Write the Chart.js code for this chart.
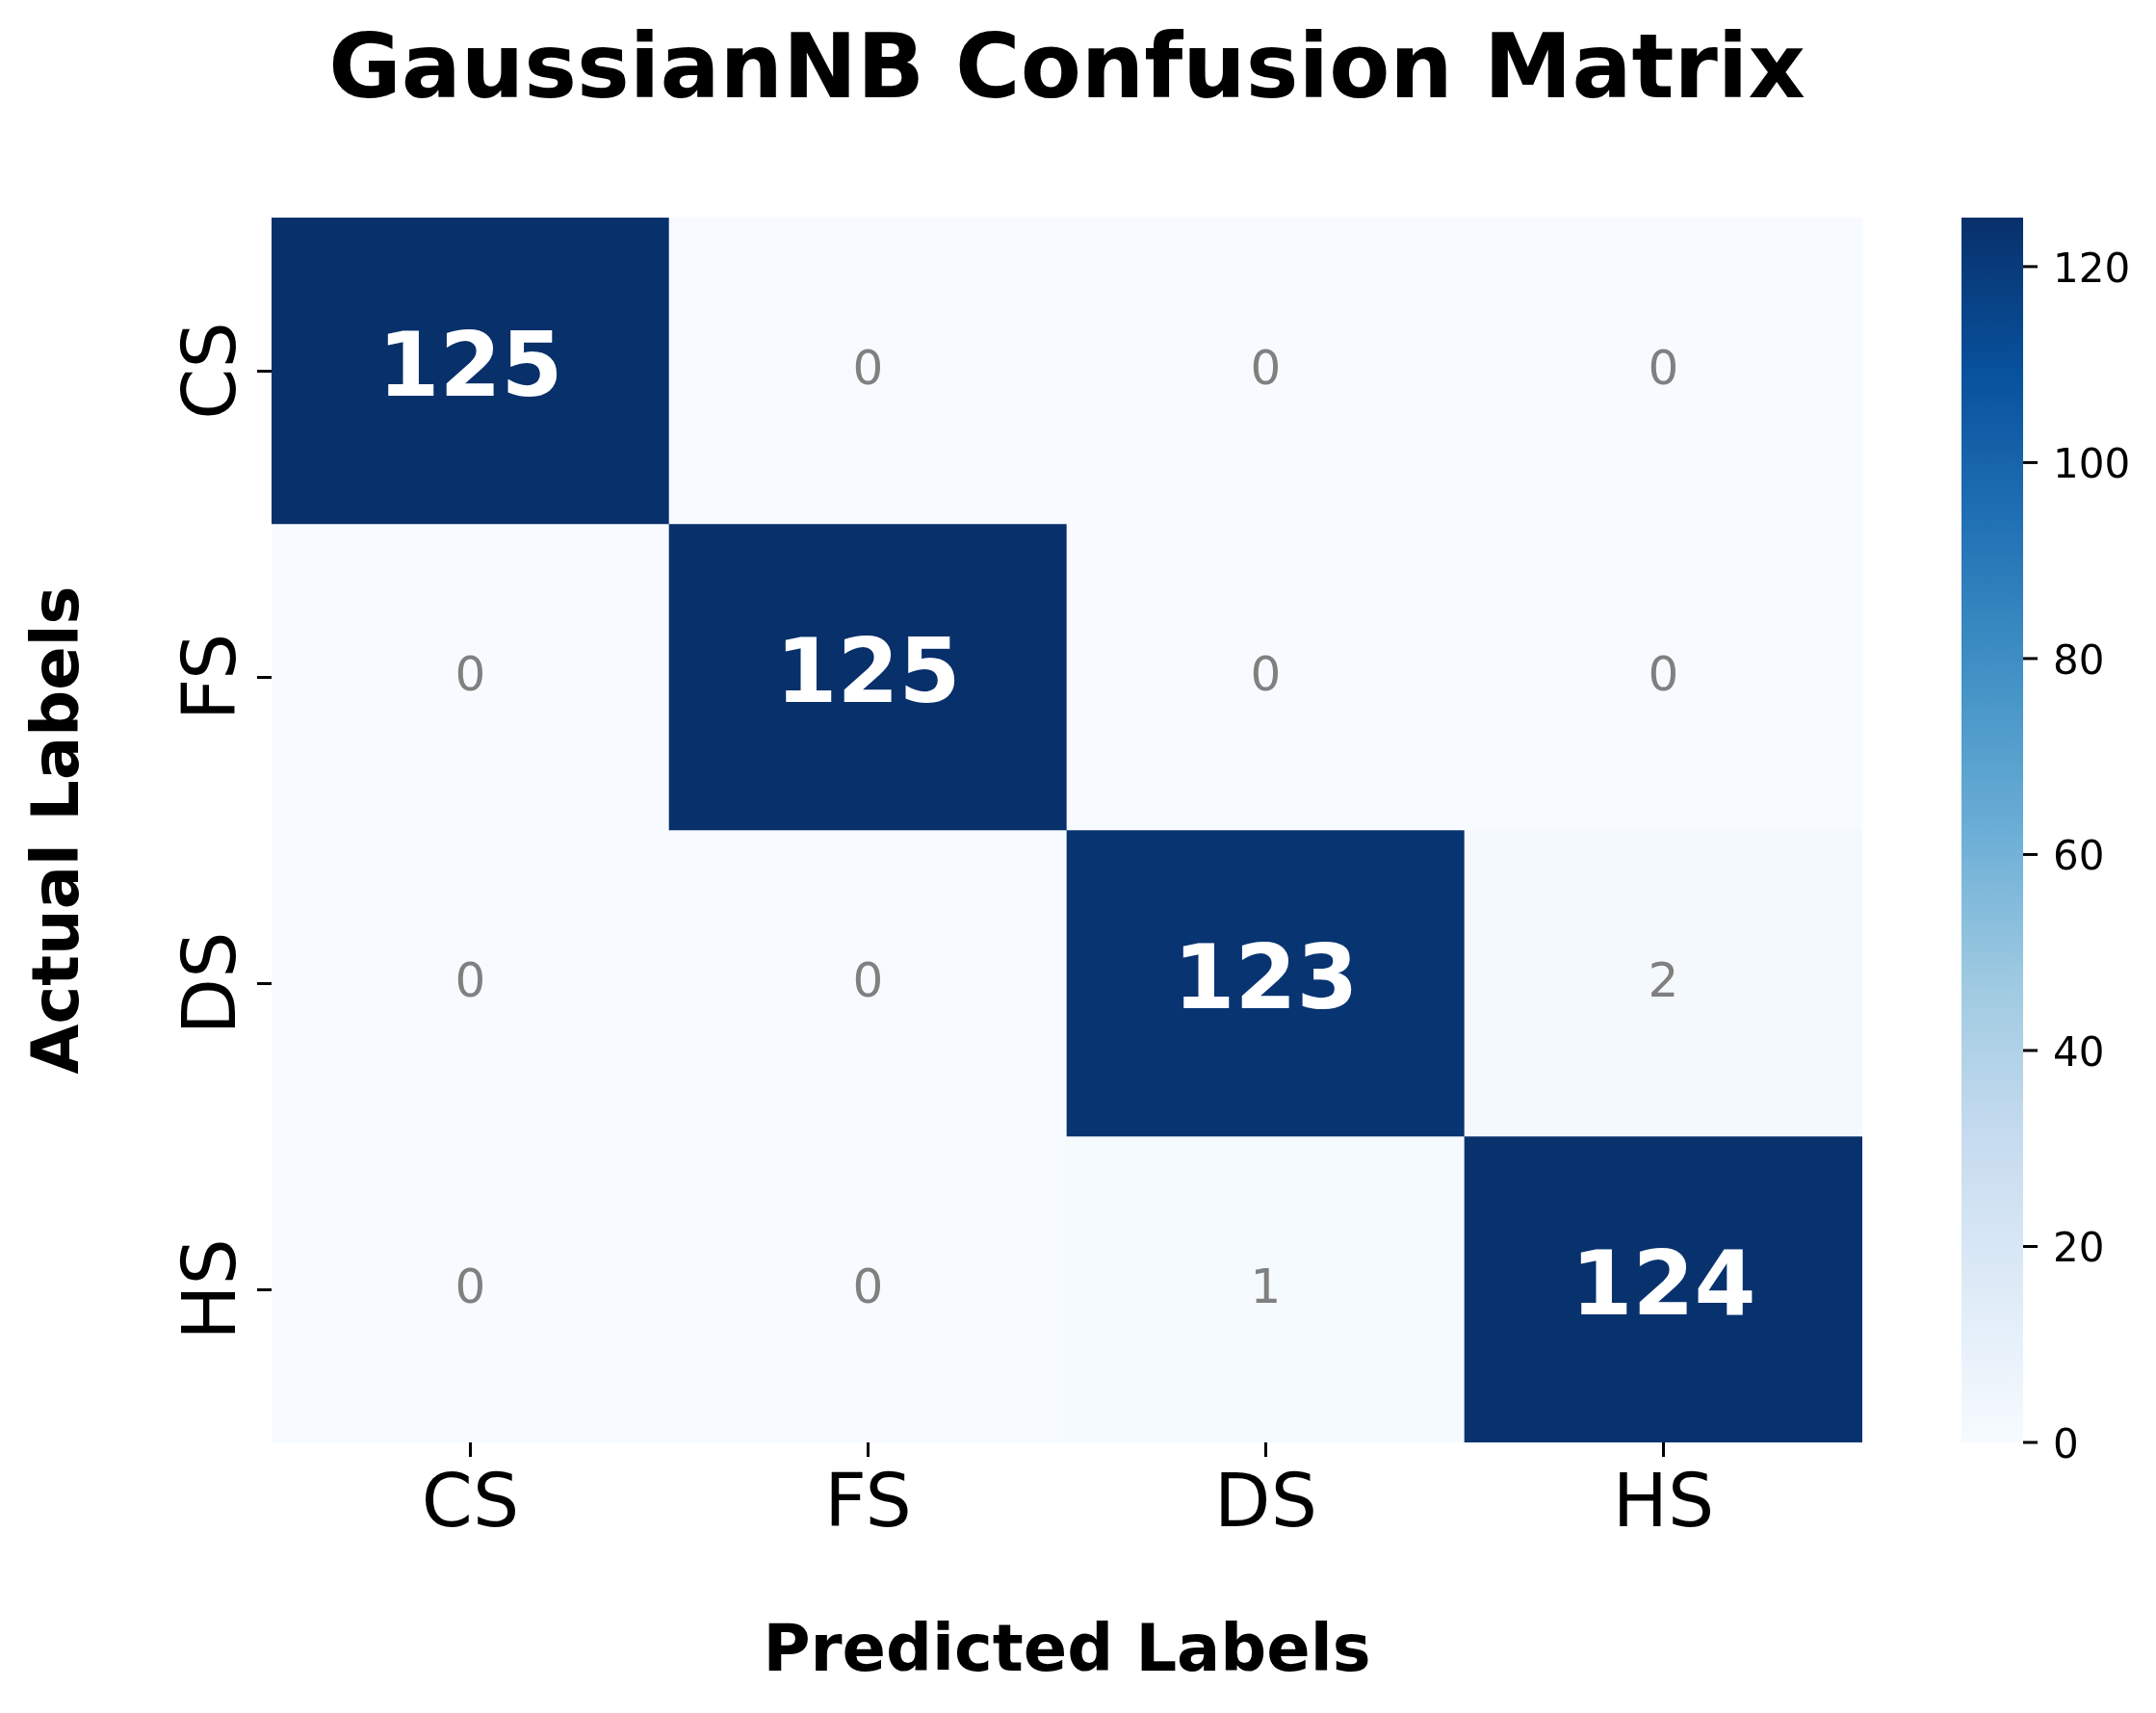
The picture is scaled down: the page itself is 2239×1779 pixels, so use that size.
<!DOCTYPE html>
<html>
<head>
<meta charset="utf-8">
<title>GaussianNB Confusion Matrix</title>
<script src="https://cdn.jsdelivr.net/npm/chart.js@4.4.1/dist/chart.umd.min.js"></script>
<style>
  html, body { margin: 0; padding: 0; background: #fff; }
  canvas { display: block; }
</style>
</head>
<body>
<canvas id="cmChart" width="2239" height="1779"></canvas>
<script>
// labels for both axes (predicted = columns, actual = rows)
const classLabels = ['CS', 'FS', 'DS', 'HS'];

// confusion matrix rows (actual class)
const rowCS = [125, 0, 0, 0];
const rowFS = [0, 125, 0, 0];
const rowDS = [0, 0, 123, 2];
const rowHS = [0, 0, 1, 124];

// colorbar
const colorbarTicks = [0, 20, 40, 60, 80, 100, 120];
const colorMin = 0;
const colorMax = 125;

const matrix = [rowCS, rowFS, rowDS, rowHS];

// matplotlib "Blues"
const bluesStops = ['#f7fbff', '#deebf7', '#c6dbef', '#9ecae1', '#6baed6', '#4292c6', '#2171b5', '#08519c', '#08306b'];

function hexToRgb(h) {
    return [parseInt(h.substr(1, 2), 16), parseInt(h.substr(3, 2), 16), parseInt(h.substr(5, 2), 16)];
}

function blues(v) {
    var t = Math.max(0, Math.min(1, (v - colorMin) / (colorMax - colorMin)));
    var pos = t * (bluesStops.length - 1);
    var i = Math.min(Math.floor(pos), bluesStops.length - 2);
    var f = pos - i;
    var a = hexToRgb(bluesStops[i]), b = hexToRgb(bluesStops[i + 1]);
    var c = a.map(function (x, k) { return Math.round(x + (b[k] - x) * f); });
    return 'rgb(' + c.join(',') + ')';
}

var FONT = "'DejaVu Sans', 'Liberation Sans', sans-serif";

var datasets = matrix.map(function (row, r) {
    return {
        label: classLabels[r],
        data: row.map(function () { return [r, r + 1]; }),
        values: row,
        backgroundColor: row.map(blues),
        borderWidth: 0,
        barPercentage: 1,
        categoryPercentage: 1,
        grouped: false
    };
});

function tickGrid() {
    return {
        display: true,
        drawOnChartArea: false,
        drawTicks: true,
        tickLength: 15,
        tickWidth: 3,
        tickColor: '#000',
        lineWidth: 3,
        color: '#000',
        offset: false
    };
}

var textPlugin = {
    id: 'heatmapText',
    afterDraw: function (chart) {
        var ctx = chart.ctx;
        var area = chart.chartArea;
        var xs = chart.scales.x, ys = chart.scales.y, cb = chart.scales.cb;
        var cx = (area.left + area.right) / 2;
        var cy = (area.top + area.bottom) / 2;

        ctx.save();

        // cell annotations
        chart.data.datasets.forEach(function (ds, r) {
            var meta = chart.getDatasetMeta(r);
            meta.data.forEach(function (el, j) {
                var p = el.getCenterPoint();
                var v = ds.values[j];
                var diag = (r === j);
                var size = diag ? 92 : 50;
                ctx.font = (diag ? 'bold ' : '') + size + 'px ' + FONT;
                ctx.fillStyle = diag ? '#ffffff' : '#808080';
                ctx.textAlign = 'center';
                ctx.textBaseline = 'alphabetic';
                ctx.fillText(String(v), p.x, p.y + 0.28 * size);
            });
        });

        // x tick labels
        ctx.fillStyle = '#000';
        ctx.font = '76px ' + FONT;
        ctx.textAlign = 'center';
        classLabels.forEach(function (lab, i) {
            ctx.fillText(lab, xs.getPixelForTick(i), 1585);
        });

        // y tick labels (rotated)
        ys.ticks.forEach(function (t, i) {
            var y = ys.getPixelForValue(t.value);
            ctx.save();
            ctx.translate(244, y);
            ctx.rotate(-Math.PI / 2);
            ctx.textAlign = 'center';
            ctx.fillText(classLabels[i], 0, 0);
            ctx.restore();
        });

        // title and axis titles
        ctx.font = 'bold 92px ' + FONT;
        ctx.textAlign = 'center';
        ctx.fillText('GaussianNB Confusion Matrix', cx, 101);

        ctx.font = 'bold 67px ' + FONT;
        ctx.fillText('Predicted Labels', cx, 1735);

        ctx.save();
        ctx.translate(81, cy);
        ctx.rotate(-Math.PI / 2);
        ctx.fillText('Actual Labels', 0, 0);
        ctx.restore();

        // colorbar
        var barL = cb.left + 103, barW = 64;
        var y0 = cb.getPixelForValue(colorMin), y1 = cb.getPixelForValue(colorMax);
        var grad = ctx.createLinearGradient(0, y0, 0, y1);
        bluesStops.forEach(function (c, i) { grad.addColorStop(i / (bluesStops.length - 1), c); });
        ctx.fillStyle = grad;
        ctx.fillRect(barL, y1, barW, y0 - y1);

        ctx.strokeStyle = '#000';
        ctx.lineWidth = 3;
        ctx.fillStyle = '#000';
        ctx.font = '42px ' + FONT;
        ctx.textAlign = 'left';
        cb.ticks.forEach(function (t) {
            var y = cb.getPixelForValue(t.value);
            ctx.beginPath();
            ctx.moveTo(barL + barW, y);
            ctx.lineTo(barL + barW + 15, y);
            ctx.stroke();
            ctx.fillText(String(t.value), barL + barW + 31, y + 0.38 * 42);
        });

        ctx.restore();
    }
};

new Chart(document.getElementById('cmChart').getContext('2d'), {
    type: 'bar',
    data: {
        labels: classLabels,
        datasets: datasets
    },
    options: {
        responsive: false,
        animation: false,
        devicePixelRatio: 1,
        layout: { padding: { top: 226, left: 0, right: 0, bottom: 0 } },
        plugins: {
            legend: { display: false },
            tooltip: { enabled: false },
            title: { display: false }
        },
        scales: {
            x: {
                type: 'category',
                offset: true,
                grid: tickGrid(),
                border: { display: false },
                ticks: { display: false },
                afterFit: function (s) { s.height = 281; }
            },
            y: {
                type: 'linear',
                min: 0,
                max: 4,
                reverse: true,
                grid: tickGrid(),
                border: { display: false },
                ticks: { display: false },
                afterBuildTicks: function (s) {
                    s.ticks = classLabels.map(function (_, i) { return { value: i + 0.5 }; });
                },
                afterFit: function (s) { s.width = 282; }
            },
            cb: {
                type: 'linear',
                axis: 'y',
                position: 'right',
                min: colorMin,
                max: colorMax,
                grid: { display: false, drawTicks: false },
                border: { display: false },
                ticks: { display: false },
                afterBuildTicks: function (s) {
                    s.ticks = colorbarTicks.map(function (v) { return { value: v }; });
                },
                afterFit: function (s) { s.width = 305; }
            }
        }
    },
    plugins: [textPlugin]
});
</script>
</body>
</html>
